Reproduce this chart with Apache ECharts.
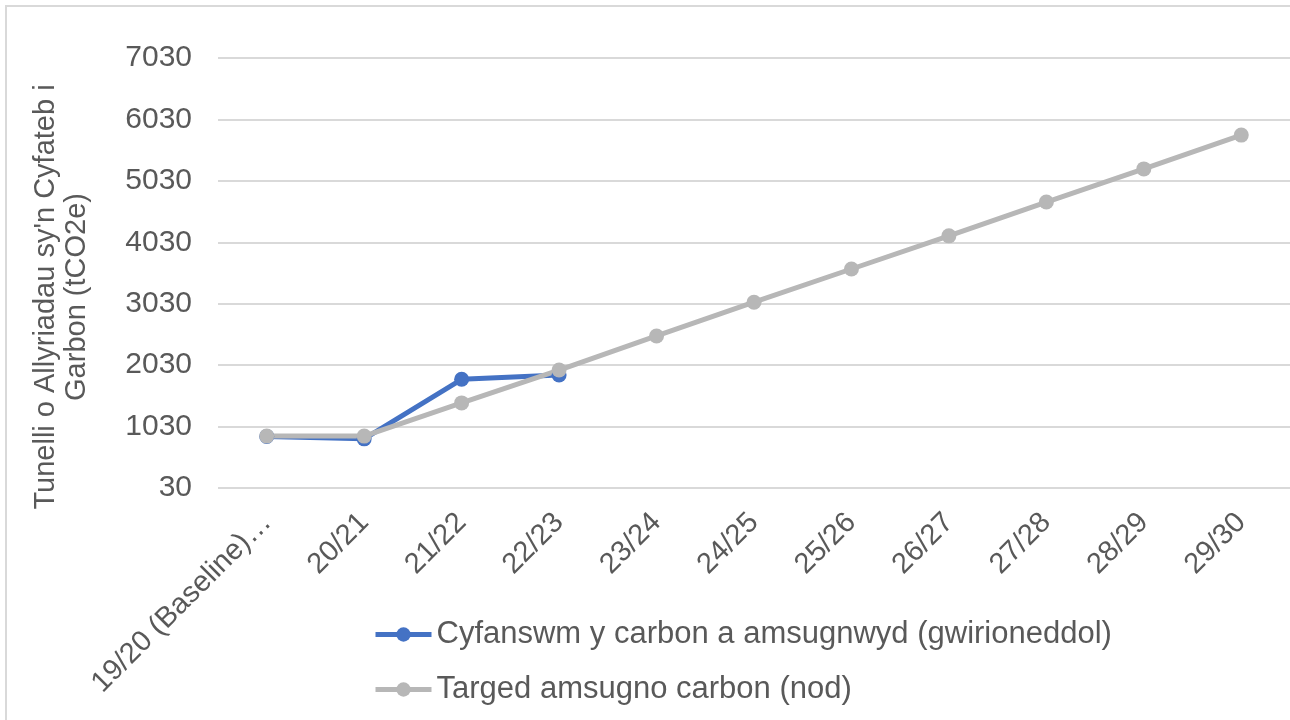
<!DOCTYPE html>
<html>
<head>
<meta charset="utf-8">
<style>
  html, body { margin: 0; padding: 0; background: #fff; }
  #chart { width: 1290px; height: 720px; }
</style>
<script src="https://cdn.jsdelivr.net/npm/echarts@6/dist/echarts.min.js"></script>
</head>
<body>
<div id="chart"></div>
<script>
const categories = ['19/20 (Baseline)…', '20/21', '21/22', '22/23', '23/24', '24/25', '25/26', '26/27', '27/28', '28/29', '29/30'];
const actual = [870, 830, 1800, 1870, null, null, null, null, null, null, null];
const target = [875, 875, 1415, 1950, 2505, 3055, 3595, 4135, 4685, 5225, 5775];
const actualName = 'Cyfanswm y carbon a amsugnwyd (gwirioneddol)';
const targetName = 'Targed amsugno carbon (nod)';

const font = '"Liberation Sans", Arial, sans-serif';
const textColor = '#595959';

const chart = echarts.init(document.getElementById('chart'));

chart.setOption({
  animation: false,
  textStyle: { fontFamily: font },
  graphic: [{
    type: 'rect',
    shape: { x: 6, y: 6, width: 1400, height: 800 },
    style: { fill: 'none', stroke: '#d9d9d9', lineWidth: 2 },
    silent: true
  }],
  grid: { left: 218, right: 0, top: 58, bottom: 232 },
  legend: {
    orient: 'vertical',
    left: 368,
    top: 614,
    itemWidth: 56,
    itemHeight: 18,
    itemGap: 24,
    lineStyle: { width: 5 },
    textStyle: { color: textColor, fontSize: 31, fontFamily: font },
    data: [actualName, targetName]
  },
  xAxis: {
    type: 'category',
    data: categories,
    boundaryGap: true,
    axisLine: { show: false },
    axisTick: { show: false },
    axisLabel: {
      rotate: 45,
      interval: 0,
      margin: 30,
      color: textColor,
      fontSize: 29,
      fontFamily: font
    }
  },
  yAxis: {
    type: 'value',
    min: 30,
    max: 7030,
    interval: 1000,
    name: "Tunelli o Allyriadau sy'n Cyfateb i\nGarbon (tCO2e)",
    nameLocation: 'middle',
    nameRotate: 90,
    nameGap: 126,
    nameTextStyle: {
      color: textColor,
      fontSize: 29,
      lineHeight: 31,
      fontFamily: font,
      padding: [0, 48, 0, 0]
    },
    axisLine: { show: false },
    axisTick: { show: false },
    axisLabel: {
      color: textColor,
      fontSize: 30,
      margin: 26,
      fontFamily: font,
      formatter: v => String(v)
    },
    splitLine: { lineStyle: { color: '#d9d9d9', width: 2 } }
  },
  series: [
    {
      name: actualName,
      type: 'line',
      data: actual,
      color: '#4472c4',
      symbol: 'circle',
      symbolSize: 15,
      lineStyle: { width: 5 },
      connectNulls: false
    },
    {
      name: targetName,
      type: 'line',
      data: target,
      color: '#b7b7b7',
      symbol: 'circle',
      symbolSize: 15,
      lineStyle: { width: 5 }
    }
  ]
});
</script>
</body>
</html>
